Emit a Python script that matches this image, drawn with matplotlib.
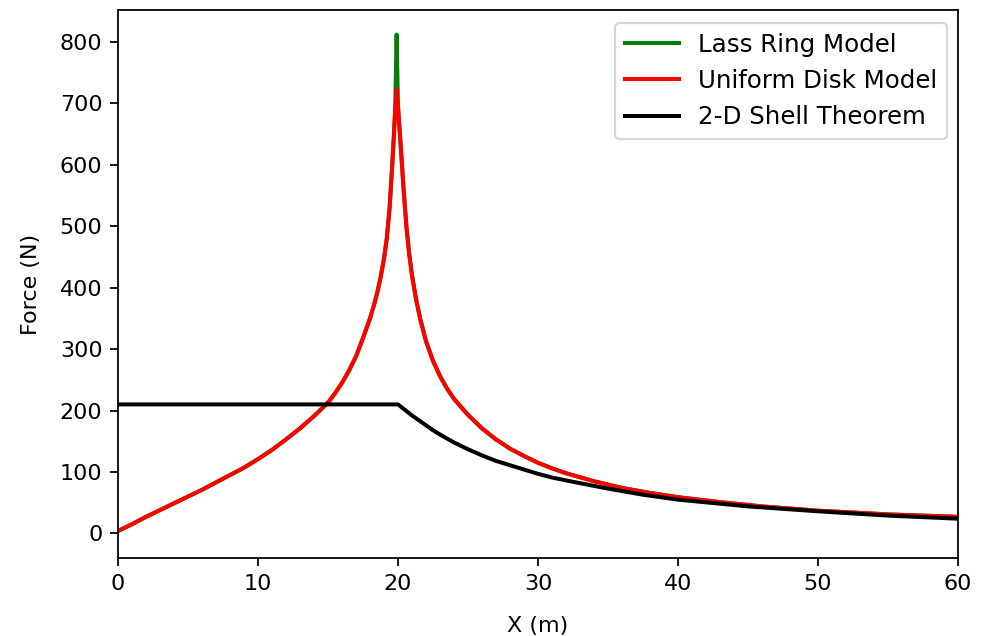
## force_profile_plot.py: force on a test mass along the x axis
# -----------------------------------------------------------------------------
from matplotlib import pyplot as plt

# -----------------------------------------------------------------------------
# sampled force values (N) against position x (m)
position_xx = [
    0, 1, 2, 3, 4, 5, 6, 7, 8, 9, 10, 11, 12, 13, 14, 15, 15.5, 16, 16.5,
    17, 17.5, 18, 18.25, 18.5, 18.75, 19, 19.2, 19.4, 19.55, 19.7, 19.8, 19.9,
    20.0, 20.1, 20.25, 20.4, 20.5, 20.6, 20.8, 21.0, 21.3, 21.6, 22.0, 22.5,
    23.0, 23.5, 24.0, 25.0, 26.0, 27.0, 28.0, 29.0, 30.0, 31.0, 32.0,
    34.0, 36.0, 38.0, 40.0, 43.0, 46.0, 50.0, 55.0, 60.0]
force_disk = [
    4, 15, 27, 38, 49, 60, 71, 83, 95, 107, 121, 136, 153, 171, 191, 213, 228, 245, 265,
    288, 318, 350, 369, 390, 416, 447, 480, 530, 585, 645, 690, 723,
    695, 662, 612, 560, 530, 500, 455, 420, 380, 348, 313, 281,
    256, 236, 219, 193, 171, 153, 138, 126, 115, 106, 98,
    85, 74, 66, 59, 51, 44, 37, 31, 27]
force_ring = [
    4, 15, 27, 38, 49, 60, 71, 83, 95, 107, 121, 136, 153, 171, 191, 213, 228, 245, 265,
    288, 318, 350, 369, 390, 416, 447, 480, 530, 585, 645, 690, 812,
    695, 662, 612, 560, 530, 500, 455, 420, 380, 348, 313, 281,
    256, 236, 219, 193, 171, 153, 138, 126, 115, 106, 98,
    85, 74, 66, 59, 51, 44, 37, 31, 27]

shell_xx = [0, 20, 20.5, 21, 22, 22.5, 23, 24, 25, 26, 27, 28, 29, 30, 31,
            32.5, 35, 37.5, 40, 45, 50, 55, 60]
force_shell = [210, 210, 201, 192, 176, 168, 161, 148, 137, 127, 118, 111, 104, 97, 91,
               84, 73, 63, 55, 44, 36, 29, 24]

# -----------------------------------------------------------------------------
# drawing the three force profiles
fig = plt.figure(figsize=(982/160, 636/160), dpi=160)
ax = fig.add_axes([118/982, 78/636, 840/982, 548/636])

ax.plot(position_xx, force_ring, color='green', linewidth=1.8, label='Lass Ring Model')
ax.plot(position_xx, force_disk, color='red', linewidth=1.8, label='Uniform Disk Model')
ax.plot(shell_xx, force_shell, color='black', linewidth=1.8, label='2-D Shell Theorem')

ax.set_xlim(0, 60)
ax.set_ylim(-40, 852)
ax.set_xlabel('X (m)', labelpad=10)
ax.set_ylabel('Force (N)', labelpad=8.5)
ax.legend(loc='upper right', bbox_to_anchor=(1 - 11/840, 1 - 13/548),
          borderaxespad=0, fontsize=11, handlelength=2.2)

fig.savefig('out.png', dpi=160)
